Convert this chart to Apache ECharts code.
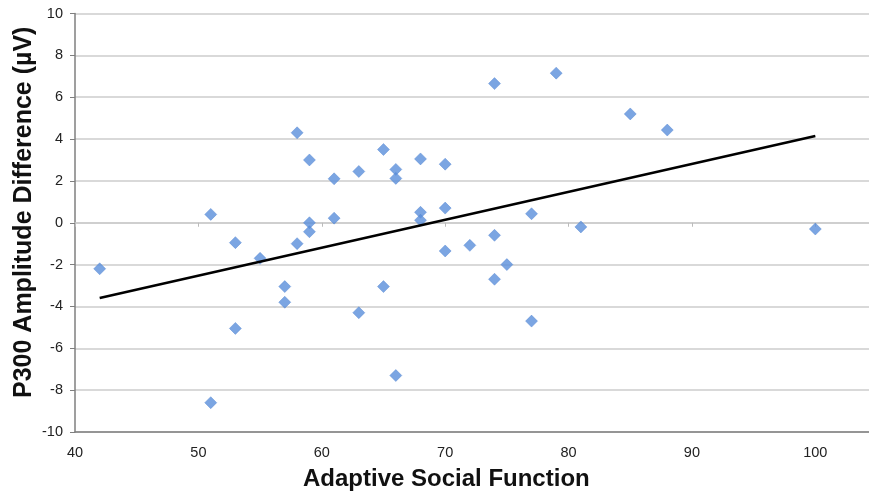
<!DOCTYPE html>
<html>
<head>
<meta charset="utf-8">
<script src="https://cdn.jsdelivr.net/npm/echarts@6/dist/echarts.min.js"></script>
<style>html,body{margin:0;padding:0;background:#fff}#c{width:869px;height:496px}</style>
</head>
<body>
<div id="c"></div>
<script>
// Adaptive Social Function (x) vs P300 amplitude difference in µV (y)
var socialFunction = [42, 51, 51, 53, 53, 55, 57, 57, 58, 58, 59, 59, 59, 61, 61, 63, 63, 65, 65, 66, 66, 66, 68, 68, 68, 70, 70, 70, 72, 74, 74, 74, 75, 77, 77, 79, 81, 85, 88, 100];
var p300Diff = [-2.2, 0.4, -8.6, -0.95, -5.05, -1.7, -3.05, -3.8, -1.0, 4.3, 3.0, 0.0, -0.43, 2.1, 0.22, 2.45, -4.3, 3.5, -3.05, 2.55, 2.12, -7.3, 3.05, 0.5, 0.12, 2.8, 0.7, -1.35, -1.08, 6.65, -0.6, -2.7, -2.0, 0.43, -4.7, 7.15, -0.2, 5.2, 4.43, -0.3];
var trendX = [42, 100];
var trendY = [-3.6, 4.15];
var xTicks = [40, 50, 60, 70, 80, 90, 100];
var yTicks = [-10, -8, -6, -4, -2, 0, 2, 4, 6, 8, 10];

var points = socialFunction.map(function (v, i) { return [v, p300Diff[i]]; });
var trend = trendX.map(function (v, i) { return [v, trendY[i]]; });
var FONT = '"Liberation Sans", Arial, Helvetica, sans-serif';

var chart = echarts.init(document.getElementById('c'), null, {renderer: 'canvas'});
chart.setOption({
  animation: false,
  backgroundColor: '#ffffff',
  grid: {left: 75, right: 0, top: 13.5, bottom: 64, containLabel: false},
  xAxis: [{
    type: 'value', min: xTicks[0], max: 104.35, interval: 10, position: 'bottom',
    axisLine: {show: true, onZero: false, lineStyle: {color: '#7f7f7f', width: 1.5}},
    axisTick: {show: false},
    splitLine: {show: false},
    axisLabel: {
      show: true, margin: 13, color: '#222', fontSize: 14.5, fontFamily: FONT, showMaxLabel: false,
      formatter: function (v) { return xTicks.indexOf(v) >= 0 ? String(v) : ''; }
    }
  }, {
    type: 'value', min: xTicks[0], max: 104.35, interval: 10, position: 'bottom',
    axisLine: {show: true, onZero: true, lineStyle: {color: '#cccccc', width: 1.5}},
    axisTick: {show: true, length: 4, lineStyle: {color: '#bbbbbb', width: 1}},
    splitLine: {show: false},
    axisLabel: {show: false}
  }],
  yAxis: {
    type: 'value', min: yTicks[0], max: yTicks[yTicks.length - 1], interval: 2,
    axisLine: {show: true, lineStyle: {color: '#7f7f7f', width: 1.5}},
    axisTick: {show: true, length: 5, lineStyle: {color: '#7f7f7f', width: 1}},
    splitLine: {show: true, lineStyle: {color: '#cccccc', width: 1.5}},
    axisLabel: {margin: 12, color: '#222', fontSize: 14.5, fontFamily: FONT}
  },
  graphic: [{
    type: 'text', left: 303, top: 467,
    style: {text: 'Adaptive Social Function', fill: '#111', font: 'bold 24px ' + FONT}
  }, {
    type: 'text', x: 12, y: 398, rotation: Math.PI / 2,
    style: {text: 'P300 Amplitude Difference (µV)', fill: '#111', font: 'bold 25px ' + FONT, textVerticalAlign: 'top'}
  }],
  series: [{
    type: 'scatter', xAxisIndex: 0, data: points,
    symbol: 'diamond', symbolSize: 12,
    itemStyle: {color: '#5a8edb', borderColor: '#4a7fcf', borderWidth: 0.5},
    z: 3
  }, {
    type: 'line', xAxisIndex: 0, data: trend, symbol: 'none',
    lineStyle: {color: '#000000', width: 2.5}, z: 4
  }]
});
</script>
</body>
</html>
